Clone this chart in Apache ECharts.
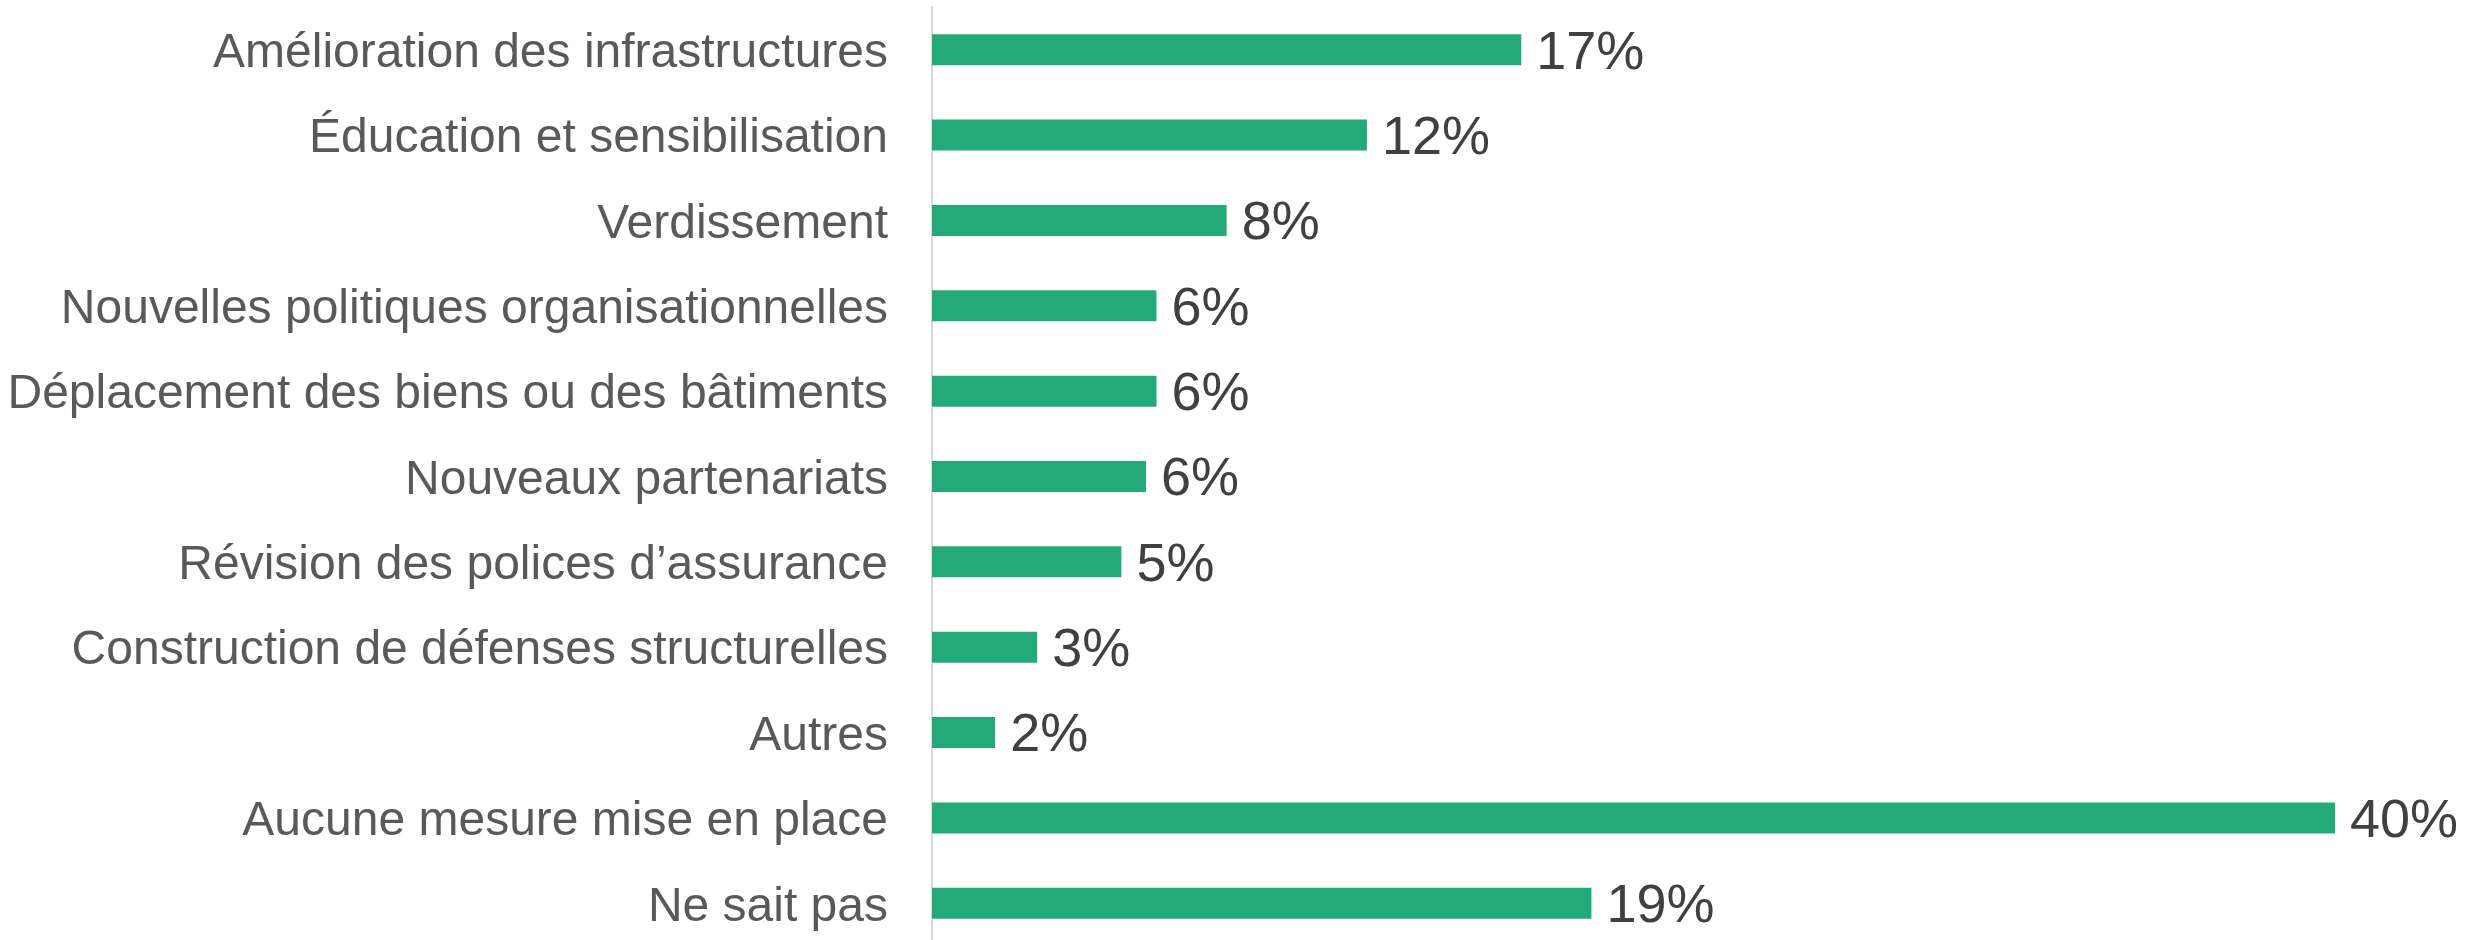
<!DOCTYPE html>
<html>
<head>
<meta charset="utf-8">
<script src="https://cdn.jsdelivr.net/npm/echarts@6/dist/echarts.min.js"></script>
<style>
  html, body { margin: 0; padding: 0; background: #fff; }
  #chart { width: 2478px; height: 940px; }
</style>
</head>
<body>
<div id="chart"></div>
<script>
// catégories, de haut en bas
var categories = [
  'Amélioration des infrastructures',
  'Éducation et sensibilisation',
  'Verdissement',
  'Nouvelles politiques organisationnelles',
  'Déplacement des biens ou des bâtiments',
  'Nouveaux partenariats',
  'Révision des polices d’assurance',
  'Construction de défenses structurelles',
  'Autres',
  'Aucune mesure mise en place',
  'Ne sait pas'
];
var values = [16.8, 12.4, 8.4, 6.4, 6.4, 6.1, 5.4, 3.0, 1.8, 40, 18.8];

var barColor = '#23aa78';
var font = 'Liberation Sans, Arial, sans-serif';

var chart = echarts.init(document.getElementById('chart'));

var option = {
  animation: false,
  grid: {
    left: 932,
    right: 143,
    top: 7,
    height: 939,
    containLabel: false,
    outerBoundsMode: 'none'
  },
  xAxis: {
    type: 'value',
    min: 0,
    max: 40,
    show: false,
    splitLine: { show: false }
  },
  yAxis: {
    type: 'category',
    data: categories,
    inverse: true,
    axisTick: { show: false },
    axisLine: {
      show: true,
      lineStyle: { color: '#d9d9d9', width: 2 }
    },
    axisLabel: {
      margin: 44,
      color: '#595959',
      fontSize: 48,
      fontFamily: font,
      formatter: function (v) {
        return '{c|' + v + '}';
      },
      rich: {
        c: {
          color: '#595959',
          fontSize: 48,
          fontFamily: font,
          padding: [8, 0, 0, 0]
        }
      }
    }
  },
  series: [
    {
      type: 'bar',
      data: values,
      barWidth: 31,
      itemStyle: { color: barColor },
      label: {
        show: true,
        position: 'right',
        distance: 15,
        offset: [0, 4],
        color: '#404040',
        fontSize: 54,
        fontFamily: font,
        formatter: function (p) {
          return Math.round(p.value) + '%';
        }
      }
    }
  ]
};

chart.setOption(option);
</script>
</body>
</html>
